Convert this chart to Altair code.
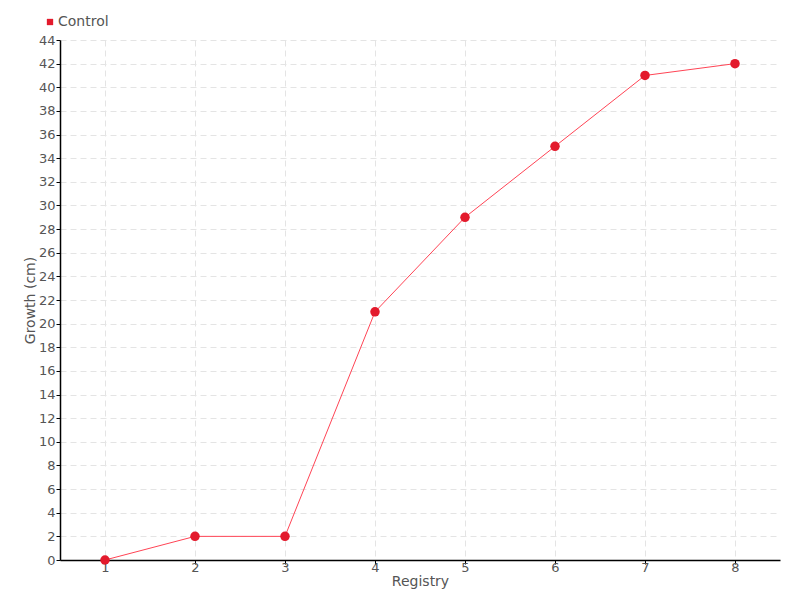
import altair as alt
import pandas as pd

registry = [1, 2, 3, 4, 5, 6, 7, 8]
growth = [0, 2, 2, 21, 29, 35, 41, 42]
series = ["Control"] * len(registry)
y_ticks = list(range(0, 46, 2))

df = pd.DataFrame({"Registry": registry, "Growth": growth, "Series": series})

FONT = "DejaVu Sans, sans-serif"

x = alt.X("Registry:O", scale=alt.Scale(type="point", padding=0.5),
          axis=alt.Axis(title="Registry", labelAngle=0, grid=True))
y = alt.Y("Growth:Q", scale=alt.Scale(domain=[0, 44], nice=False),
          axis=alt.Axis(title="Growth (cm)", values=y_ticks, grid=True))
color = alt.Color("Series:N", scale=alt.Scale(domain=["Control"], range=["#e31a2c"]),
                  legend=alt.Legend(title=None, orient="none", legendX=-17, legendY=-25,
                                    symbolType="square", symbolSize=40,
                                    labelFont=FONT, labelFontSize=14, labelColor="#555555",
                                    symbolStrokeWidth=0, labelOffset=1))

line = alt.Chart(df).mark_line(color="#ff4455", strokeWidth=1).encode(x=x, y=y)
pts = alt.Chart(df).mark_circle(size=90, opacity=1).encode(x=x, y=y, color=color)

chart = alt.layer(line, pts).properties(
    width=720, height=520,
    autosize=alt.AutoSizeParams(type="none"),
    padding={"left": 52, "top": 32, "right": 10, "bottom": 30},
).configure_view(stroke=None).configure_axis(
    domainColor="#000000", domainWidth=1.5, tickColor="#000000", tickSize=4,
    labelFont=FONT, labelFontSize=13, labelColor="#555555",
    titleFont=FONT, titleFontSize=14, titleColor="#555555", titleFontWeight="normal",
    gridColor="#e4e4e4", gridDash=[6, 4], gridWidth=1,
).configure_axisX(titlePadding=0, labelPadding=-3).configure_axisY(titlePadding=1, labelPadding=1)

chart.save("out.html", embed_options={"renderer": "svg", "actions": False})
